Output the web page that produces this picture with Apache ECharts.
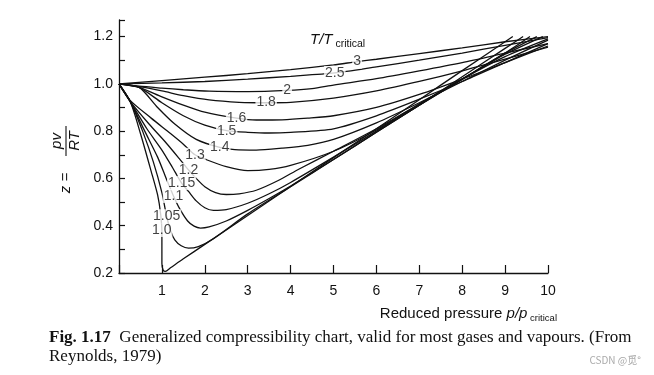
<!DOCTYPE html>
<html>
<head>
<meta charset="utf-8">
<script src="https://cdn.jsdelivr.net/npm/echarts@6/dist/echarts.min.js"></script>
<style>
html,body{margin:0;padding:0;background:#fff}
#chart{width:654px;height:375px}
</style>
</head>
<body>
<div id="chart"></div>
<script>
// reduced temperature T/Tc of each curve
var tempNames = ['1.0','1.05','1.1','1.15','1.2','1.3','1.4','1.5','1.6','1.8','2','2.5','3'];

// [reduced pressure, z]
var tr100 = [[0,1],[0.26,0.926],[0.5,0.79],[0.75,0.63],[0.9,0.53],[0.97,0.45],[1.0,0.37],[1.0,0.24],[1.03,0.212],[1.08,0.207],[1.2,0.222],[1.5,0.26],[2,0.321],[3,0.443],[4,0.566],[5,0.688],[6,0.81],[7,0.933],[8,1.056],[9.18,1.2]];
var tr105 = [[0,1],[0.26,0.926],[0.55,0.8],[0.8,0.67],[1.0,0.54],[1.11,0.44],[1.2,0.38],[1.3,0.34],[1.45,0.315],[1.62,0.305],[1.85,0.312],[2.2,0.345],[3,0.45],[4,0.565],[5,0.68],[6,0.795],[7,0.91],[8,1.03],[9,1.15],[9.42,1.2]];
var tr110 = [[0,1],[0.26,0.926],[0.6,0.8],[0.9,0.69],[1.1,0.6],[1.27,0.526],[1.42,0.47],[1.6,0.42],[1.75,0.398],[1.9,0.39],[2.1,0.395],[2.5,0.42],[3,0.465],[3.5,0.515],[4,0.568],[5,0.68],[6,0.795],[7,0.91],[8,1.02],[9,1.13],[9.58,1.2]];
var tr115 = [[0,1],[0.26,0.926],[0.65,0.81],[1.0,0.72],[1.25,0.645],[1.46,0.58],[1.62,0.545],[1.8,0.505],[2.0,0.476],[2.2,0.465],[2.5,0.468],[3,0.495],[3.5,0.535],[4,0.583],[5,0.69],[6,0.8],[7,0.91],[8,1.02],[9,1.13],[9.74,1.2]];
var tr120 = [[0,1],[0.26,0.926],[0.7,0.83],[1.1,0.75],[1.4,0.685],[1.62,0.636],[1.8,0.6],[2.0,0.565],[2.25,0.54],[2.5,0.532],[2.8,0.535],[3.2,0.55],[3.7,0.59],[4.2,0.64],[5,0.715],[6,0.81],[7,0.915],[8,1.02],[9,1.125],[9.88,1.2]];
var tr130 = [[0,1],[0.26,0.93],[0.75,0.855],[1.2,0.79],[1.5,0.745],[1.77,0.70],[2.04,0.679],[2.5,0.65],[3.0,0.633],[3.5,0.638],[4,0.655],[5,0.715],[6,0.805],[7,0.915],[8,1.02],[9,1.115],[10,1.19]];
var tr140 = [[0,1],[0.47,0.985],[0.9,0.9],[1.3,0.83],[1.8,0.765],[2.35,0.731],[2.7,0.722],[3.2,0.72],[3.8,0.728],[4.4,0.74],[5,0.765],[6,0.835],[7,0.92],[8,1.01],[9,1.1],[10,1.185]];
var tr150 = [[0,1],[0.47,0.985],[1.0,0.92],[1.5,0.865],[2.0,0.825],[2.51,0.802],[3,0.795],[3.5,0.792],[4,0.795],[5,0.81],[6,0.865],[7,0.935],[8,1.01],[9,1.09],[10,1.17]];
var tr160 = [[0,1],[0.47,0.985],[1,0.945],[1.5,0.91],[2.0,0.88],[2.74,0.855],[3.2,0.847],[3.8,0.848],[4.4,0.855],[5,0.865],[6,0.9],[7,0.955],[8,1.02],[9,1.09],[10,1.16]];
var tr180 = [[0,1],[0.47,0.988],[1,0.97],[1.5,0.95],[2.1,0.932],[2.8,0.922],[3.43,0.92],[4,0.922],[5,0.94],[6,0.97],[7,1.01],[8,1.055],[9,1.105],[10,1.155]];
var tr200 = [[0,1],[0.47,0.99],[1,0.982],[1.5,0.975],[2.1,0.969],[3,0.967],[3.92,0.972],[4.5,0.98],[5,0.995],[6,1.022],[7,1.055],[8,1.09],[9,1.13],[10,1.17]];
var tr250 = [[0,1],[1,1.004],[2,1.01],[3,1.02],[4,1.032],[5.03,1.046],[6,1.072],[7,1.1],[8,1.13],[9,1.163],[10,1.195]];
var tr300 = [[0,1],[1,1.014],[2,1.028],[3,1.043],[4,1.06],[5,1.08],[5.55,1.094],[6,1.104],[7,1.128],[8,1.152],[9,1.178],[10,1.2]];

// where each curve's label sits on it
var labelAt = [[0.995,0.382],[1.11,0.44],[1.27,0.526],[1.46,0.58],[1.62,0.636],[1.77,0.70],[2.35,0.731],[2.51,0.802],[2.74,0.855],[3.43,0.922],[3.92,0.972],[5.03,1.046],[5.55,1.094]];

var curves = [tr100,tr105,tr110,tr115,tr120,tr130,tr140,tr150,tr160,tr180,tr200,tr250,tr300];

var series = curves.map(function(d, i){
  return {
    name: tempNames[i],
    type: 'line',
    data: d,
    smooth: 0.25,
    showSymbol: false,
    silent: true,
    lineStyle: {color: '#111', width: 1.3}
  };
});

series.push({
  type: 'scatter',
  z: 10,
  silent: true,
  symbolSize: 0.1,
  itemStyle: {color: 'rgba(0,0,0,0)'},
  data: labelAt.map(function(p, i){ return [p[0], p[1], tempNames[i]]; }),
  label: {
    show: true,
    position: 'inside',
    formatter: function(p){ return p.value[2]; },
    fontFamily: 'Liberation Sans',
    fontSize: 14,
    color: '#111',
    backgroundColor: '#fff',
    padding: [0, 1]
  }
});

var chart = echarts.init(document.getElementById('chart'));

var option = {
  animation: false,
  backgroundColor: '#fff',
  grid: {left: 119, right: 106, top: 20, bottom: 102},
  xAxis: {
    type: 'value',
    min: 0, max: 10, interval: 1,
    axisLine: {lineStyle: {color: '#111', width: 1.3}},
    axisTick: {inside: true, length: 8, lineStyle: {color: '#111', width: 1.2}},
    axisLabel: {
      color: '#111', fontFamily: 'Liberation Sans', fontSize: 14, margin: 11,
      formatter: function(v){ return v === 0 ? '' : v; }
    },
    splitLine: {show: false}
  },
  yAxis: {
    type: 'value',
    min: 0.2, max: 1.27, interval: 0.1,
    axisLine: {show: true, lineStyle: {color: '#111', width: 1.3}},
    axisTick: {inside: true, length: 6, lineStyle: {color: '#111', width: 1.2}},
    axisLabel: {
      color: '#111', fontFamily: 'Liberation Sans', fontSize: 14, margin: 6,
      formatter: function(v){
        var k = Math.round(v * 10);
        if (k % 2 !== 0 || Math.abs(v * 10 - k) > 1e-6) return '';
        return (k / 10).toFixed(1);
      }
    },
    splitLine: {show: false}
  },
  graphic: [
    {
      type: 'group', x: 66, y: 141, rotation: Math.PI / 2,
      children: [
        {type: 'text', x: -42, y: 0, style: {text: 'z =', fontFamily: 'Liberation Sans', fontSize: 15, fontStyle: 'italic', fill: '#111', align: 'center', verticalAlign: 'middle'}},
        {type: 'line', shape: {x1: -15, y1: 0, x2: 15, y2: 0}, style: {stroke: '#111', lineWidth: 1.1}},
        {type: 'text', x: 0, y: -9, style: {text: 'pv', fontFamily: 'Liberation Sans', fontSize: 15, fontStyle: 'italic', fill: '#111', align: 'center', verticalAlign: 'middle'}},
        {type: 'text', x: 0, y: 9, style: {text: 'RT', fontFamily: 'Liberation Sans', fontSize: 15, fontStyle: 'italic', fill: '#111', align: 'center', verticalAlign: 'middle'}}
      ]
    },
    {
      type: 'text', x: 310, y: 40,
      style: {
        text: '{a|T/T}{b| critical}',
        verticalAlign: 'middle',
        rich: {
          a: {fontFamily: 'Liberation Sans', fontSize: 15, fontStyle: 'italic', fill: '#111'},
          b: {fontFamily: 'Liberation Sans', fontSize: 10.5, fill: '#111', padding: [8, 0, 0, 0]}
        }
      }
    },
    {
      type: 'text', x: 557, y: 314,
      style: {
        text: '{n|Reduced pressure }{i|p/p}{s| critical}',
        align: 'right', verticalAlign: 'middle',
        rich: {
          n: {fontFamily: 'Liberation Sans', fontSize: 15, fill: '#111'},
          i: {fontFamily: 'Liberation Sans', fontSize: 15, fontStyle: 'italic', fill: '#111'},
          s: {fontFamily: 'Liberation Sans', fontSize: 9.5, fill: '#111', padding: [8, 0, 0, 0]}
        }
      }
    },
    {
      type: 'text', x: 49, y: 338,
      style: {
        text: '{b|Fig. 1.17}{r|  Generalized compressibility chart, valid for most gases and vapours. (From}',
        verticalAlign: 'middle',
        rich: {
          b: {fontFamily: 'Liberation Serif', fontSize: 17, fontWeight: 'bold', fill: '#111'},
          r: {fontFamily: 'Liberation Serif', fontSize: 17, fill: '#111'}
        }
      }
    },
    {
      type: 'text', x: 49, y: 357,
      style: {text: 'Reynolds, 1979)', fontFamily: 'Liberation Serif', fontSize: 17, fill: '#111', verticalAlign: 'middle'}
    },
    {
      type: 'text', x: 641, y: 360,
      style: {text: 'CSDN @觅°', fontFamily: 'Noto Sans CJK SC', fontSize: 10, fill: '#aaa', align: 'right', verticalAlign: 'middle'}
    }
  ],
  series: series
};

chart.setOption(option);
window.addEventListener('resize', function(){ chart.resize(); });
</script>
</body>
</html>
